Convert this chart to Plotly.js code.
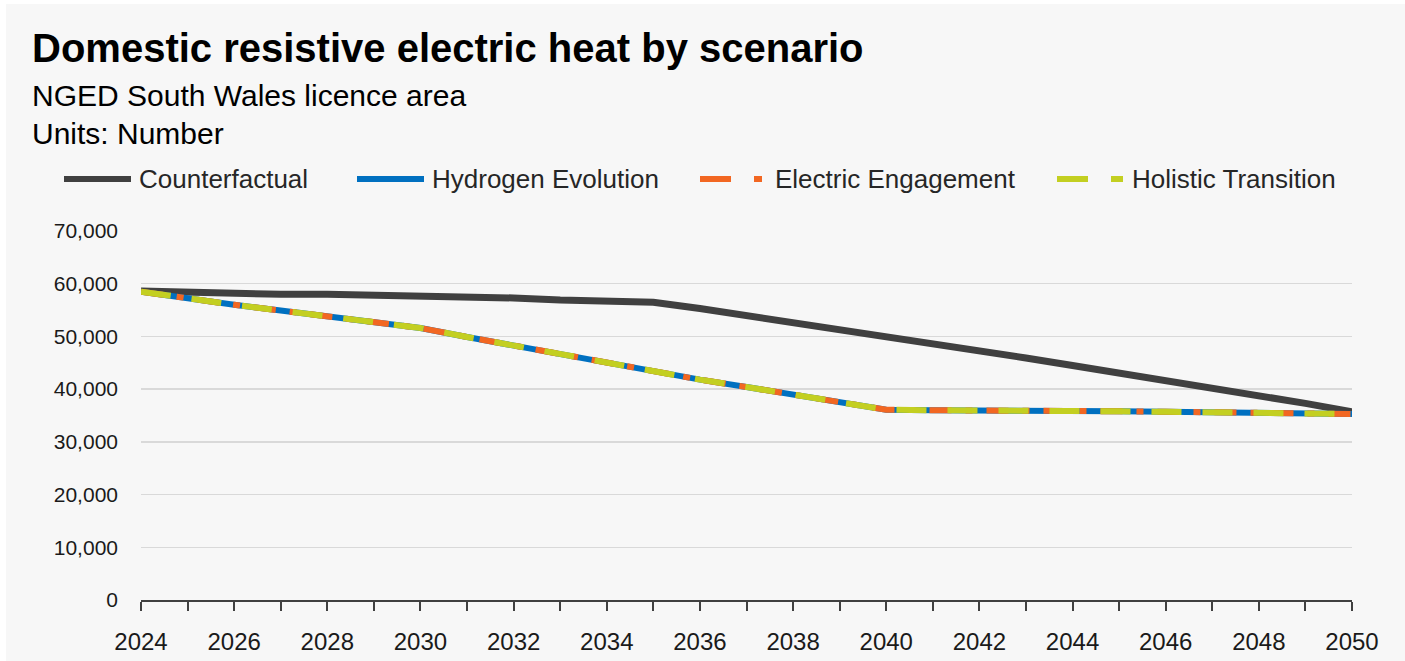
<!DOCTYPE html>
<html>
<head>
<meta charset="utf-8">
<script src="https://cdn.plot.ly/plotly-3.0.1.min.js"></script>
<style>
html,body{margin:0;padding:0;background:#ffffff;}
#chart{position:absolute;left:6px;top:4px;width:1399px;height:657px;}
</style>
</head>
<body>
<div id="chart"></div>
<script>
const years = [2024,2025,2026,2027,2028,2029,2030,2031,2032,2033,2034,2035,2036,2037,2038,2039,2040,2041,2042,2043,2044,2045,2046,2047,2048,2049,2050];
const counterfactual = [58600,58300,58100,58000,58000,57900,57800,57600,57300,56900,56700,56500,55300,54000,52500,51300,50100,48700,47300,45900,44500,43100,41600,40200,38800,37300,35700];
const hydrogenEvolution = [58500,57200,56000,54900,53800,52700,51600,49900,48300,46500,44900,43300,41800,40400,39000,37500,36100,36000,36000,35900,35800,35800,35700,35600,35500,35400,35300];
const electricEngagement = [58500,57200,56000,54900,53800,52700,51600,49900,48300,46500,44900,43300,41800,40400,39000,37500,36100,36000,36000,35900,35800,35800,35700,35600,35500,35400,35300];
const holisticTransition = [58500,57200,56000,54900,53800,52700,51600,49900,48300,46500,44900,43300,41800,40400,39000,37500,36100,36000,36000,35900,35800,35800,35700,35600,35500,35400,35300];
const seriesNames = ["Counterfactual","Hydrogen Evolution","Electric Engagement","Holistic Transition"];
const titleText = "Domestic resistive electric heat by scenario";
const subtitle1 = "NGED South Wales licence area";
const subtitle2 = "Units: Number";

const font = "Liberation Sans, Arial, sans-serif";
const W = 1399, H = 657, M = {l: 135, r: 53, t: 227, b: 61};
const PW = W - M.l - M.r, PH = H - M.t - M.b;
const px = x => (x - M.l) / PW;         // div x pixel -> paper
const py = y => (H - M.b - y) / PH;     // div y pixel -> paper

const styles = [
  {color: "#404040", width: 7, dash: "solid", legendDash: "solid"},
  {color: "#0070C0", width: 6, dash: "solid", legendDash: "solid"},
  {color: "#F26722", width: 6, dash: "22px,14px,7px,14px", legendDash: "31px,23px,8px,40px"},
  {color: "#C3CF21", width: 6, dash: "30px,21px", legendDash: "31px,23px,12px,40px"}
];
const seriesData = [counterfactual, hydrogenEvolution, electricEngagement, holisticTransition];
const traces = seriesData.map((d, i) => ({
  x: years, y: d, name: seriesNames[i], mode: "lines", showlegend: false,
  line: {color: styles[i].color, width: styles[i].width, dash: styles[i].dash}
}));

// custom legend (positions in div pixels)
const legendSymX = [58, 351, 694, 1051];
const legendY = 175;
const shapes = [], annotations = [];
seriesNames.forEach((n, i) => {
  shapes.push({type: "line", xref: "paper", yref: "paper", x0: px(legendSymX[i]), x1: px(legendSymX[i] + 67), y0: py(legendY), y1: py(legendY),
    line: {color: styles[i].color, width: 6, dash: styles[i].legendDash}});
  annotations.push({text: n, xref: "paper", yref: "paper", x: px(legendSymX[i] + 73), y: py(legendY), xanchor: "left", yanchor: "middle",
    showarrow: false, font: {family: font, size: 26, color: "#262626"}});
});
annotations.push({text: subtitle1, xref: "paper", yref: "paper", x: px(24), y: py(91), xanchor: "left", yanchor: "middle", showarrow: false, font: {family: font, size: 30, color: "#000"}});
annotations.push({text: subtitle2, xref: "paper", yref: "paper", x: px(24), y: py(129), xanchor: "left", yanchor: "middle", showarrow: false, font: {family: font, size: 30, color: "#000"}});

const layout = {
  width: W, height: H,
  paper_bgcolor: "#f7f7f7", plot_bgcolor: "#f7f7f7",
  margin: M,
  font: {family: font, color: "#000000", size: 20},
  title: {text: "<b>" + titleText + "</b>", font: {family: font, size: 40, color: "#000"}, xref: "container", x: 26/W, xanchor: "left", yref: "container", y: 1 - 44/H, yanchor: "middle"},
  showlegend: false,
  xaxis: {range: [2024, 2050], dtick: 1, tick0: 2024, ticklabelstep: 2, ticks: "outside", ticklen: 9, tickwidth: 2, tickcolor: "#404040", showline: true, linecolor: "#404040", linewidth: 2, showgrid: false, zeroline: false, tickfont: {size: 24, color: "#1a1a1a"}, ticklabelstandoff: 10, fixedrange: true},
  yaxis: {range: [0, 70000], dtick: 10000, tickformat: ",", showgrid: true, gridcolor: "#d9d9d9", gridwidth: 1.5, zeroline: false, showline: false, ticks: "", tickfont: {size: 21, color: "#1a1a1a"}, ticklabelstandoff: 22, fixedrange: true},
  shapes: shapes,
  annotations: annotations
};
Plotly.newPlot("chart", traces, layout, {displayModeBar: false, staticPlot: true});
</script>
</body>
</html>
